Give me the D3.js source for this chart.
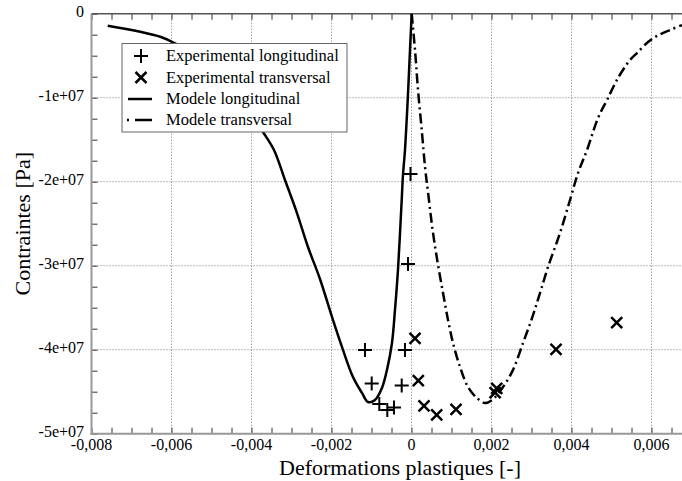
<!DOCTYPE html>
<html><head><meta charset="utf-8">
<script src="https://cdn.jsdelivr.net/npm/d3@7"></script>
<style>body{margin:0;background:#fff}svg{display:block}</style>
</head><body>
<script>
// ---- data ----
const xTicks = [-0.008,-0.006,-0.004,-0.002,0,0.002,0.004,0.006];
const xTickLabels = ["-0,008","-0,006","-0,004","-0,002","0","0,002","0,004","0,006"];
const yTicks = [0,-1e7,-2e7,-3e7,-4e7,-5e7];
const yTickLabels = ["0","-1e+07","-2e+07","-3e+07","-4e+07","-5e+07"];
const seriesNames = ["Experimental longitudinal","Experimental transversal","Modele longitudinal","Modele transversal"];

const expLongX = [-0.000025,-0.0000875,-0.001163,-0.000163,-0.000995,-0.000245,-0.000805,-0.000605,-0.000438];
const expLongY = [-1.908e7,-2.98e7,-4.003e7,-4.003e7,-4.402e7,-4.426e7,-4.646e7,-4.717e7,-4.688e7];

const expTransX = [0.0000875,0.00017,0.000313,0.00063,0.001113,0.00213,0.00209,0.003613,0.00513];
const expTransY = [-3.864e7,-4.369e7,-4.67e7,-4.777e7,-4.71e7,-4.46e7,-4.51e7,-3.995e7,-3.679e7];

const modLongX = [-0.007595,-0.006263,-0.005838,-0.005288,-0.004663,-0.004163,-0.003713,-0.003438,-0.003163,-0.002863,-0.002588,-0.002288,-0.001988,-0.001713,-0.001463,-0.001238,-0.001088,-0.000913,-0.000738,-0.000613,-0.000488,-0.000413,-0.000338,-0.000245,-0.000213,-0.000163,-0.000095,-0.0000375,0.000005];
const modLongY = [-1.43e6,-2.77e6,-3.73e6,-5.27e6,-7.89e6,-1.087e7,-1.408e7,-1.623e7,-1.98e7,-2.373e7,-2.777e7,-3.158e7,-3.61e7,-4.003e7,-4.325e7,-4.515e7,-4.623e7,-4.6e7,-4.455e7,-4.24e7,-3.92e7,-3.527e7,-3.05e7,-2.218e7,-1.92e7,-1.623e7,-1.027e7,-4.32e6,0];

const modTransX = [0.000005,0.0000875,0.000163,0.000263,0.000338,0.000413,0.000538,0.000663,0.000788,0.000913,0.001038,0.001213,0.001413,0.001638,0.001838,0.002013,0.002288,0.002538,0.002788,0.003013,0.003213,0.003413,0.003713,0.003963,0.004163,0.004388,0.004663,0.004888,0.005163,0.005463,0.005638,0.005913,0.006138,0.006463,0.006763];
const modTransY = [0,-4.32e6,-9.08e6,-1.42e7,-1.825e7,-2.125e7,-2.61e7,-2.99e7,-3.325e7,-3.646e7,-3.92e7,-4.205e7,-4.444e7,-4.575e7,-4.635e7,-4.6e7,-4.444e7,-4.24e7,-3.92e7,-3.623e7,-3.325e7,-3.015e7,-2.61e7,-2.218e7,-1.897e7,-1.623e7,-1.242e7,-1.027e7,-7.65e6,-5.51e6,-4.68e6,-3.37e6,-2.65e6,-1.94e6,-1.35e6];

// ---- layout ----
const W = 682, H = 481;
const L = 91.5, R = 682, T = 13.7, B = 433.7;
const FONT = "'Liberation Serif', 'DejaVu Serif', serif";
const svg = d3.select("body").append("svg").attr("width", W).attr("height", H)
  .attr("font-family", FONT);

const x = d3.scaleLinear().domain([-0.008, -0.008 + (R - L) / 40000]).range([L, R]);
const y = d3.scaleLinear().domain([-5e7, 0]).range([B, T]);

svg.append("defs").append("clipPath").attr("id","clip")
  .append("rect").attr("x", L).attr("y", T).attr("width", R - L).attr("height", B - T);

// grid
const gridColor = "#777";
svg.append("g").selectAll("line").data(xTicks.filter(d => d > -0.008))
  .join("line").attr("x1", d => x(d)).attr("x2", d => x(d)).attr("y1", T).attr("y2", B)
  .attr("stroke", gridColor).attr("stroke-width", 1).attr("stroke-dasharray", "1,2");
svg.append("g").selectAll("line").data(yTicks.filter(d => d < 0 && d > -5e7))
  .join("line").attr("x1", L).attr("x2", R).attr("y1", d => y(d)).attr("y2", d => y(d))
  .attr("stroke", gridColor).attr("stroke-width", 1).attr("stroke-dasharray", "1,2");

// minor/major ticks (inward)
const xMinor = d3.range(-0.008, x.domain()[1] + 1e-9, 0.0005);
const yMinor = d3.range(0, -5e7 - 1, -2.5e6);
const tl = 6;
const bottomAxis = d3.axisBottom(x).tickValues(xMinor).tickSize(-tl).tickFormat("");
const topAxis = d3.axisTop(x).tickValues(xMinor).tickSize(-tl).tickFormat("");
const leftAxis = d3.axisLeft(y).tickValues(yMinor).tickSize(-tl).tickFormat("");
function styleAxis(g){
  g.select(".domain").remove();
  g.selectAll(".tick line").attr("stroke", "#333").attr("stroke-width", 1);
}
svg.append("g").attr("transform", `translate(0,${B})`).call(bottomAxis).call(styleAxis);
svg.append("g").attr("transform", `translate(0,${T})`).call(topAxis).call(styleAxis);
svg.append("g").attr("transform", `translate(${L},0)`).call(leftAxis).call(styleAxis);

// frame lines
svg.append("line").attr("x1", L).attr("x2", R).attr("y1", T).attr("y2", T).attr("stroke", "#555").attr("stroke-width", 1.5);
svg.append("line").attr("x1", L - 1).attr("x2", R).attr("y1", B).attr("y2", B).attr("stroke", "#999").attr("stroke-width", 2);
svg.append("line").attr("x1", L).attr("x2", L).attr("y1", T).attr("y2", B + 1).attr("stroke", "#999").attr("stroke-width", 2);

// tick labels
svg.append("g").selectAll("text").data(xTicks).join("text")
  .attr("x", d => x(d)).attr("y", 450).attr("text-anchor", "middle").attr("font-family", FONT)
  .attr("font-size", 16).attr("fill", "#000").text((d, i) => xTickLabels[i]);
svg.append("g").selectAll("text").data(yTicks).join("text")
  .attr("x", 84).attr("y", d => y(d) + 3).attr("text-anchor", "end").attr("font-family", FONT)
  .attr("font-size", 16).attr("fill", "#000").text((d, i) => yTickLabels[i]);

// axis titles
svg.append("text").attr("x", 400).attr("y", 475).attr("text-anchor", "middle").attr("font-family", FONT)
  .attr("font-size", 22).text("Deformations plastiques [-]");
svg.append("text").attr("transform", `translate(30,${(T + B) / 2}) rotate(-90)`).attr("text-anchor", "middle").attr("font-family", FONT)
  .attr("font-size", 22).text("Contraintes [Pa]");

// curves
const plot = svg.append("g").attr("clip-path", "url(#clip)");
const line = d3.line().x(d => x(d[0])).y(d => y(d[1])).curve(d3.curveCatmullRom.alpha(0.5));
plot.append("path").datum(d3.zip(modLongX, modLongY)).attr("d", line)
  .attr("fill", "none").attr("stroke", "#000").attr("stroke-width", 2.5);
plot.append("path").datum(d3.zip(modTransX, modTransY)).attr("d", line)
  .attr("fill", "none").attr("stroke", "#000").attr("stroke-width", 2.5).attr("stroke-dasharray", "10,4,2,4");

// markers
function plus(g, cx, cy, s){
  g.append("path").attr("d", `M${cx - s},${cy}H${cx + s}M${cx},${cy - s}V${cy + s}`)
    .attr("stroke", "#000").attr("stroke-width", 2).attr("fill", "none");
}
function cross(g, cx, cy, s){
  g.append("path").attr("d", `M${cx - s},${cy - s}L${cx + s},${cy + s}M${cx - s},${cy + s}L${cx + s},${cy - s}`)
    .attr("stroke", "#000").attr("stroke-width", 2.5).attr("fill", "none");
}
const mk = svg.append("g");
expLongX.forEach((v, i) => plus(mk, x(v), y(expLongY[i]), 7));
expTransX.forEach((v, i) => cross(mk, x(v), y(expTransY[i]), 5.5));

// legend
const lg = svg.append("g");
lg.append("rect").attr("x", 122).attr("y", 43.5).attr("width", 225).attr("height", 88.5)
  .attr("fill", "#fff").attr("stroke", "#666").attr("stroke-width", 1);
const rows = [56, 77.5, 99, 120];
plus(lg, 141, rows[0], 7);
cross(lg, 141, rows[1], 5.5);
lg.append("line").attr("x1", 128).attr("x2", 152).attr("y1", rows[2]).attr("y2", rows[2]).attr("stroke", "#000").attr("stroke-width", 2.5);
lg.append("line").attr("x1", 127).attr("x2", 129).attr("y1", rows[3]).attr("y2", rows[3]).attr("stroke", "#000").attr("stroke-width", 2.5);
lg.append("line").attr("x1", 135).attr("x2", 152).attr("y1", rows[3]).attr("y2", rows[3]).attr("stroke", "#000").attr("stroke-width", 2.5);
lg.selectAll("text.lt").data(seriesNames).join("text").attr("class", "lt").attr("font-family", FONT)
  .attr("x", 166).attr("y", (d, i) => rows[i] + 5).attr("font-size", 16.5).attr("fill", "#000").text(d => d);
</script>
</body></html>
